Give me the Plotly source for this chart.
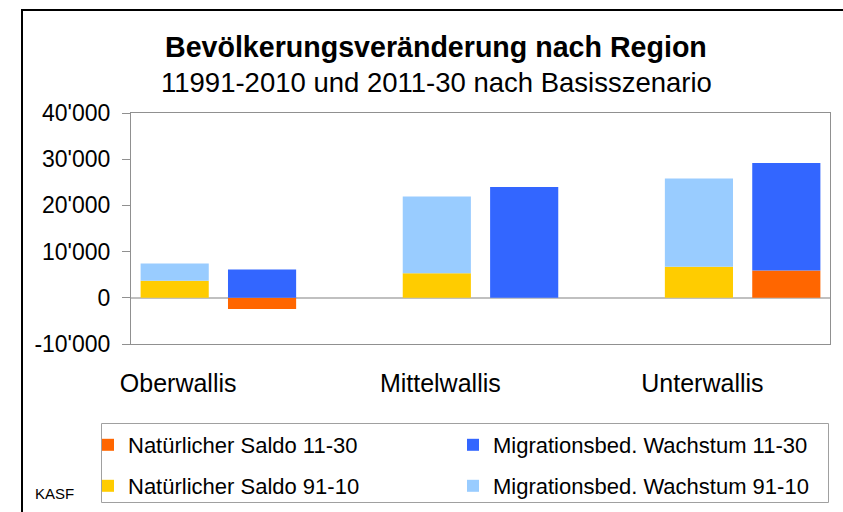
import plotly.graph_objects as go

regions = ["Oberwallis", "Mittelwallis", "Unterwallis"]
nat_91_10 = [3700, 5300, 6700]
mig_91_10 = [3700, 16600, 19100]
nat_11_30 = [-2400, 0, 5900]
mig_11_30 = [6100, 24000, 23300]
y_ticks = [-10000, 0, 10000, 20000, 30000, 40000]
y_tick_labels = ["-10'000", "0", "10'000", "20'000", "30'000", "40'000"]

x91 = [3 * i for i in range(len(regions))]
x11 = [3 * i + 1 for i in range(len(regions))]

FONT = "Liberation Sans, Arial, sans-serif"

fig = go.Figure()
fig.add_trace(go.Bar(x=x11, y=nat_11_30, name="Natürlicher Saldo 11-30", marker_color="#FF6600", legend="legend"))
fig.add_trace(go.Bar(x=x11, y=mig_11_30, name="Migrationsbed. Wachstum 11-30", marker_color="#3366FF", legend="legend"))
fig.add_trace(go.Bar(x=x91, y=nat_91_10, name="Natürlicher Saldo 91-10", marker_color="#FFCC00", legend="legend2"))
fig.add_trace(go.Bar(x=x91, y=mig_91_10, name="Migrationsbed. Wachstum 91-10", marker_color="#99CCFF", legend="legend2"))
fig.update_traces(marker_line_width=0)

L, R, T, B = 131, 13, 113, 168
W, H = 843, 512
pw, ph = W - L - R, H - T - B

def px(x):
    return (x - L) / pw

def py(y):
    return (H - B - y) / ph

leg_common = dict(
    orientation="h", xanchor="left", yanchor="middle",
    borderwidth=0, bgcolor="rgba(0,0,0,0)",
    font=dict(size=22, family=FONT), entrywidth=320, entrywidthmode="pixels",
    traceorder="normal", itemclick=False, itemdoubleclick=False,
)

fig.update_layout(
    width=W, height=H,
    margin=dict(l=L, r=R, t=T, b=B, pad=0, autoexpand=False),
    paper_bgcolor="white", plot_bgcolor="white",
    barmode="relative", bargap=0.22,
    font=dict(family=FONT, color="black"),
    showlegend=True,
    legend=dict(x=px(88), y=py(445), **leg_common),
    legend2=dict(x=px(88), y=py(486), **leg_common),
    xaxis=dict(
        range=[-0.5, 7.5], tickvals=[v + 0.04 for v in x91], ticktext=regions,
        showline=True, mirror=True, linecolor="#909090", linewidth=1,
        showgrid=False, zeroline=False, ticks="", tickfont=dict(size=25),
        ticklabelstandoff=17, fixedrange=True,
    ),
    yaxis=dict(
        range=[-10000, 40000], tickvals=y_ticks, ticktext=y_tick_labels,
        showline=True, mirror=True, linecolor="#909090", linewidth=1,
        ticks="outside", ticklen=8, tickcolor="#909090",
        showgrid=False, zeroline=True, zerolinecolor="#C0C0C0", zerolinewidth=2,
        tickfont=dict(size=23), ticklabelstandoff=7, fixedrange=True,
    ),
    annotations=[
        dict(text="<b>Bevölkerungsveränderung nach Region</b>", xref="paper", yref="paper",
             x=px(436), y=py(47), xanchor="center", yanchor="middle", showarrow=False,
             font=dict(size=28.6, family=FONT)),
        dict(text="11991-2010 und 2011-30 nach Basisszenario", xref="paper", yref="paper",
             x=px(436), y=py(82), xanchor="center", yanchor="middle", showarrow=False,
             font=dict(size=27.5, family=FONT)),
        dict(text="KASF", xref="paper", yref="paper", x=px(33), y=py(493),
             xanchor="left", yanchor="middle", showarrow=False, font=dict(size=15, family=FONT)),
    ],
    shapes=[
        dict(type="line", xref="paper", yref="paper", x0=px(22), x1=px(850), y0=py(10), y1=py(10),
             line=dict(color="black", width=2)),
        dict(type="line", xref="paper", yref="paper", x0=px(22), x1=px(22), y0=py(9), y1=py(520),
             line=dict(color="black", width=2)),
        dict(type="rect", xref="paper", yref="paper", x0=px(101.5), x1=px(828.5), y0=py(423.5), y1=py(502.5),
             line=dict(color="#A0A0A0", width=1)),
    ],
)

fig.write_html(
    "out.html",
    config={"displayModeBar": False},
    post_script="document.documentElement.style.margin='0px';document.body.style.margin='0px';document.body.style.padding='0px';",
)
